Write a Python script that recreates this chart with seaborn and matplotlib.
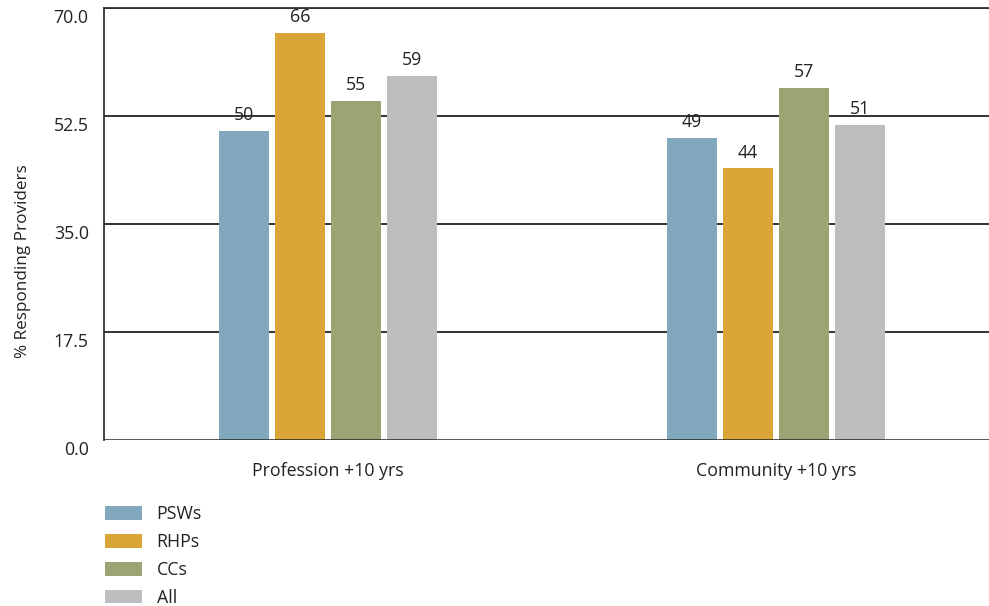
import matplotlib
matplotlib.use("Agg")
import matplotlib.pyplot as plt
import matplotlib.transforms as mtransforms
from matplotlib.patches import Patch
import seaborn as sns
import pandas as pd

categories = ["Profession +10 yrs", "Community +10 yrs"]
groups = ["PSWs", "RHPs", "CCs", "All"]
psws = [50, 49]
rhps = [66, 44]
ccs = [55, 57]
all_providers = [59, 51]
colors = ["#81A8BC", "#DAA537", "#9CA374", "#BDBEC0"]
y_ticks = [0.0, 17.5, 35.0, 52.5, 70.0]

sns.set_theme(style="white")
plt.rcParams["font.family"] = ["Open Sans", "DejaVu Sans"]
FS = 12.8

rows = []
for g, vals in zip(groups, [psws, rhps, ccs, all_providers]):
    for c, v in zip(categories, vals):
        rows.append({"category": c, "group": g, "value": v})
df = pd.DataFrame(rows)

fig = plt.figure(figsize=(9.89, 6.06), dpi=100)
ax = fig.add_axes([104 / 989, 166 / 606, 896 / 989, 432 / 606])

sns.barplot(data=df, x="category", y="value", hue="group", order=categories,
            hue_order=groups, palette=colors, width=0.5, gap=0.09,
            saturation=1, legend=False, ax=ax, zorder=3, linewidth=0)

ax.set_xlim(-0.5, 1.5)
ax.set_ylim(0, 70)
ax.set_yticks(y_ticks)
ax.set_yticklabels([f"{t:.1f}" for t in y_ticks])
for t in y_ticks[1:]:
    ax.axhline(t, color="#222222", lw=1.3, zorder=2)

for s in ["right", "bottom"]:
    ax.spines[s].set_visible(False)
for s in ["left", "top"]:
    ax.spines[s].set_color("#333333")
    ax.spines[s].set_linewidth(1.3)
ax.axhline(0, color="#222222", lw=1.8, zorder=4)

ax.tick_params(axis="y", length=0, pad=11, labelsize=FS, labelcolor="#222222")
ax.tick_params(axis="x", length=0, pad=16, labelsize=FS, labelcolor="#222222")
shift = mtransforms.ScaledTranslation(0, -8 / 100, fig.dpi_scale_trans)
for lbl in ax.get_yticklabels():
    lbl.set_transform(lbl.get_transform() + shift)

ax.set_xlabel("")
ax.set_ylabel("% Responding Providers", fontsize=12.3, color="#222222")
ax.yaxis.set_label_coords(-0.082, 0.414)

for cont in ax.containers:
    ax.bar_label(cont, fmt="%d", padding=5, fontsize=FS, color="#222222")

handles = [Patch(facecolor=c, edgecolor="none", label=g) for c, g in zip(colors, groups)]
fig.legend(handles=handles, loc="upper left", bbox_to_anchor=(105 / 989, 1 - 505 / 606),
           frameon=False, fontsize=FS, borderpad=0, borderaxespad=0,
           handlelength=2.1, handleheight=0.8, handletextpad=0.8, labelspacing=0.56,
           labelcolor="#222222")

fig.savefig("out.png", dpi=100)
